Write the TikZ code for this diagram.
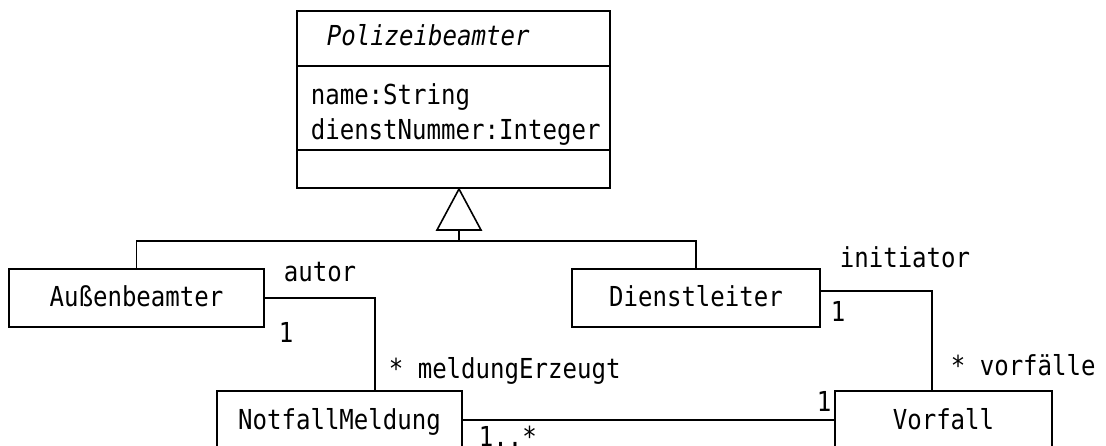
\documentclass[tikz,border=0pt]{standalone}
\usepackage{fontspec}
\setmainfont{DejaVu Sans Mono}[FakeStretch=0.875]
\usetikzlibrary{calc}
\begin{document}
\begin{tikzpicture}[x=1pt,y=-1pt,line width=1.6pt,
  every node/.style={font=\fontsize{27.5}{32}\selectfont},
  cls/.style={draw, rectangle, inner sep=0pt, minimum height=58pt, text height=20pt, text depth=2pt},
  lbl/.style={anchor=base west, inner sep=0pt},
  titlefont/.style={font=\fontsize{27.5}{32}\selectfont\itshape}]
\useasboundingbox (0,0) rectangle (1106,446);
\clip (0,0) rectangle (1106,446);
% class boxes
\node[cls, minimum width=313pt, minimum height=177pt] (pb) at (453.5,99.5) {};
\draw ($(pb.north west)+(0,56)$) -- ($(pb.north east)+(0,56)$);
\draw ($(pb.north west)+(0,140)$) -- ($(pb.north east)+(0,140)$);
\node[lbl, titlefont] (pbname) at (326,46) {Polizeibeamter};
\node[lbl] (attr1) at (310,105) {name:String};
\node[lbl] (attr2) at (310,140) {dienstNummer:Integer};
\node[cls, minimum width=255pt] (ab) at (136.5,298) {Außenbeamter};
\node[cls, minimum width=248pt] (dl) at (696,298) {Dienstleiter};
\node[cls, minimum width=245pt] (nm) at (339.5,420) {NotfallMeldung};
\node[cls, minimum width=217pt] (vf) at (943.5,420) {Vorfall};
% generalization
\coordinate (apex) at (459,189);
\coordinate (bus) at (459,241);
\draw (apex) -- ++(22,41) -- ++(-44,0) -- cycle;
\draw ($(apex)+(0,41)$) -- (bus);
\draw (ab.north) |- (bus) -| (dl.north);
% associations
\coordinate (nmtop) at ($(nm.north west)+(159,0)$);
\draw (ab.east) -| (nmtop);
\coordinate (dlout) at ($(dl.east)+(0,-7)$);
\coordinate (vftop) at ($(vf.north west)+(98,0)$);
\draw (dlout) -| (vftop);
\draw (nm.east) -- (vf.west);
% labels
\node[lbl] (lautor) at (283,282) {autor};
\node[lbl] (lab1) at (278,342) {1};
\node[lbl] (lmeld) at (388,378) {* meldungErzeugt};
\node[lbl] (linit) at (839,268) {initiator};
\node[lbl] (ldl1) at (830,322) {1};
\node[lbl] (lvorf) at (950,375) {* vorfälle};
\node[lbl] (lvf1) at (816,411) {1};
\node[lbl] (lnm) at (478,446) {1..*};
\end{tikzpicture}
\end{document}
